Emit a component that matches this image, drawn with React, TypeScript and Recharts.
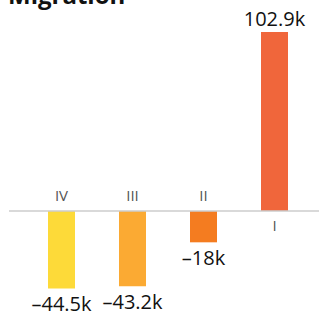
import { BarChart, Bar, XAxis, YAxis, ReferenceLine, LabelList, Cell } from "recharts";

const categories = ["IV", "III", "II", "I"];
const values = [-44.5, -43.2, -18, 102.9];
const valueLabels = ["–44.5k", "–43.2k", "–18k", "102.9k"];
const colors = ["#FDDA39", "#FBAA33", "#F47C20", "#F0663B"];

const data = categories.map((c, i) => ({ name: c, value: values[i], label: valueLabels[i] }));

const FONT = "'Open Sans', sans-serif";

const ValueLabel = (props: any) => {
  const { x, y, width, height, index } = props;
  const v = values[index];
  const cx = x + width / 2;
  const top = Math.min(y, y + height);
  const bottom = Math.max(y, y + height);
  const ty = v >= 0 ? top - 5.5 : bottom + 22.5;
  return (
    <text x={cx} y={ty} textAnchor="middle" fontSize={20} fill="#111" fontFamily={FONT}>
      {valueLabels[index]}
    </text>
  );
};

const CategoryLabel = (props: any) => {
  const { x, y, width, height, index } = props;
  const v = values[index];
  const cx = x + width / 2;
  const zero = v >= 0 ? Math.max(y, y + height) : Math.min(y, y + height);
  const ty = v >= 0 ? zero + 20 : zero - 10;
  return (
    <text x={cx} y={ty} textAnchor="middle" fontSize={15} fill="#555" fontFamily={FONT}>
      {categories[index]}
    </text>
  );
};

export default function App() {
  return (
    <div style={{ position: "absolute", left: 0, top: 0, width: 319, height: 313, background: "#fff", overflow: "hidden" }}>
      <div style={{ position: "absolute", left: 8, top: -18, fontFamily: FONT, fontWeight: 700, fontSize: 24, color: "#111", lineHeight: "26px", whiteSpace: "nowrap" }}>
        Migration
      </div>
      <BarChart width={319} height={313} data={data} margin={{ top: 19.6, right: 0, bottom: 6.3, left: 9 }}>
        <XAxis dataKey="name" hide padding={{ left: 17, right: 9 }} />
        <YAxis hide domain={[-55, 110]} />
        <ReferenceLine y={0} stroke="#ccc" strokeWidth={1.5} />
        <Bar dataKey="value" barSize={27} isAnimationActive={false}>
          {data.map((d, i) => (
            <Cell key={d.name} fill={colors[i]} />
          ))}
          <LabelList dataKey="label" content={ValueLabel} />
          <LabelList dataKey="name" content={CategoryLabel} />
        </Bar>
      </BarChart>
    </div>
  );
}
